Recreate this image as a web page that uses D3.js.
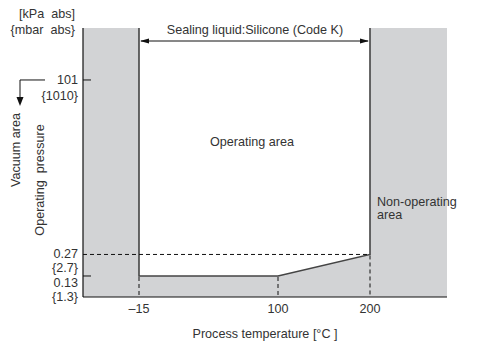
<!DOCTYPE html>
<html><head><meta charset="utf-8">
<script src="https://cdn.jsdelivr.net/npm/d3@7"></script>
<style>body{margin:0;background:#fff;} text{font-family:"Liberation Sans",Arial,sans-serif;fill:#333;}</style>
</head><body>
<svg id="c" width="486" height="356"></svg>
<script>
// Data
const xTicks = [-15, 100, 200];
const xTickLabels = ["\u201315", "100", "200"];
const yTicks = [101, 0.27, 0.13];
const yTickKpa = ["101", "0.27", "0.13"];
const yTickMbar = ["{1010}", "{2.7}", "{1.3}"];
const boundaryTemp = [-15, 100, 200];
const boundaryPressure = [0.13, 0.13, 0.27];
const xDomainEnds = [-61, 283];
const yDomainEnds = [0.0637, 590];

(function () {
const svg = d3.select("#c");
const FS = 12.6;
const L = 83, R = 447, T = 28, B = 297;
const x = d3.scaleLinear()
  .domain([xDomainEnds[0], ...xTicks, xDomainEnds[1]])
  .range([L, 139, 278, 370, R]);
const y = d3.scaleLog().domain(yDomainEnds).range([B, T]);

const gray = "#d2d3d5";
svg.append("rect").attr("x", L).attr("y", T).attr("width", R - L).attr("height", B - T).attr("fill", gray);

const yTop = yDomainEnds[1];
const poly = [[boundaryTemp[0], yTop]];
boundaryTemp.forEach((t, i) => poly.push([t, boundaryPressure[i]]));
poly.push([boundaryTemp[boundaryTemp.length - 1], yTop]);
const lineGen = d3.line().x(d => x(d[0])).y(d => y(d[1]));
svg.append("path").attr("d", lineGen(poly)).attr("fill", "#fff").attr("stroke", "none");
svg.append("path").attr("d", lineGen(poly))
  .attr("fill", "none").attr("stroke", "#444").attr("stroke-width", 1.6);

const last = boundaryTemp.length - 1;
svg.append("line").attr("x1", L).attr("x2", x(boundaryTemp[last]))
  .attr("y1", y(boundaryPressure[last])).attr("y2", y(boundaryPressure[last]))
  .attr("stroke", "#111").attr("stroke-dasharray", "4,3");
boundaryTemp.forEach((t, i) => {
  svg.append("line").attr("x1", x(t)).attr("x2", x(t))
    .attr("y1", y(boundaryPressure[i]) + 1).attr("y2", B)
    .attr("stroke", "#111").attr("stroke-dasharray", "4,3");
});

svg.append("line").attr("x1", L).attr("x2", L).attr("y1", T).attr("y2", B).attr("stroke", "#111").attr("stroke-width", 1.2);
svg.append("line").attr("x1", L).attr("x2", R).attr("y1", B).attr("y2", B).attr("stroke", "#111").attr("stroke-width", 1.2);

const labOff = [0, 0, 7];
yTicks.forEach((v, i) => {
  if (i !== 1) svg.append("line").attr("x1", L).attr("x2", L + 8).attr("y1", y(v)).attr("y2", y(v)).attr("stroke", "#111");
  svg.append("text").attr("x", 78).attr("y", y(v) + labOff[i] + 4).attr("text-anchor", "end")
    .attr("font-size", FS).text(yTickKpa[i]);
  svg.append("text").attr("x", 78).attr("y", y(v) + labOff[i] + (i === 0 ? 20 : 18)).attr("text-anchor", "end")
    .attr("font-size", FS).text(yTickMbar[i]);
});

xTicks.forEach((v, i) => {
  svg.append("text").attr("x", x(v)).attr("y", 313).attr("text-anchor", "middle")
    .attr("font-size", FS).text(xTickLabels[i]);
});
svg.append("text").attr("x", 265).attr("y", 338).attr("text-anchor", "middle").attr("font-size", FS)
  .text("Process temperature [\u00b0C ]");

svg.append("text").attr("x", 75).attr("y", 18).attr("text-anchor", "end").attr("font-size", FS).text("[kPa\u00a0\u00a0abs]");
svg.append("text").attr("x", 75).attr("y", 34).attr("text-anchor", "end").attr("font-size", FS).text("{mbar\u00a0\u00a0abs}");

svg.append("path").attr("d", `M45,${y(101)}H20V100`).attr("fill", "none").attr("stroke", "#111");
svg.append("path").attr("d", "M16.5,97L23.5,97L20,106Z").attr("fill", "#111");
svg.append("text").attr("transform", "translate(20,150) rotate(-90)").attr("text-anchor", "middle").attr("font-size", FS).text("Vacuum area");
svg.append("text").attr("transform", "translate(44,180) rotate(-90)").attr("text-anchor", "middle").attr("font-size", FS).text("Operating\u00a0\u00a0pressure");

const ay = 41, ax1 = x(boundaryTemp[0]), ax2 = x(boundaryTemp[last]);
svg.append("line").attr("x1", ax1 + 2).attr("x2", ax2 - 2).attr("y1", ay).attr("y2", ay).attr("stroke", "#111");
svg.append("path").attr("d", `M${ax1 + 1},${ay}l9,-2.5v5Z`).attr("fill", "#111");
svg.append("path").attr("d", `M${ax2 - 1},${ay}l-9,-2.5v5Z`).attr("fill", "#111");
svg.append("text").attr("x", 255).attr("y", 34).attr("text-anchor", "middle").attr("font-size", FS).text("Sealing liquid:Silicone (Code K)");

svg.append("text").attr("x", 252).attr("y", 146).attr("text-anchor", "middle").attr("font-size", FS).text("Operating area");
svg.append("text").attr("x", 377).attr("y", 206).attr("font-size", FS).text("Non-operating");
svg.append("text").attr("x", 377).attr("y", 219).attr("font-size", FS).text("area");
})();
</script>
</body></html>
